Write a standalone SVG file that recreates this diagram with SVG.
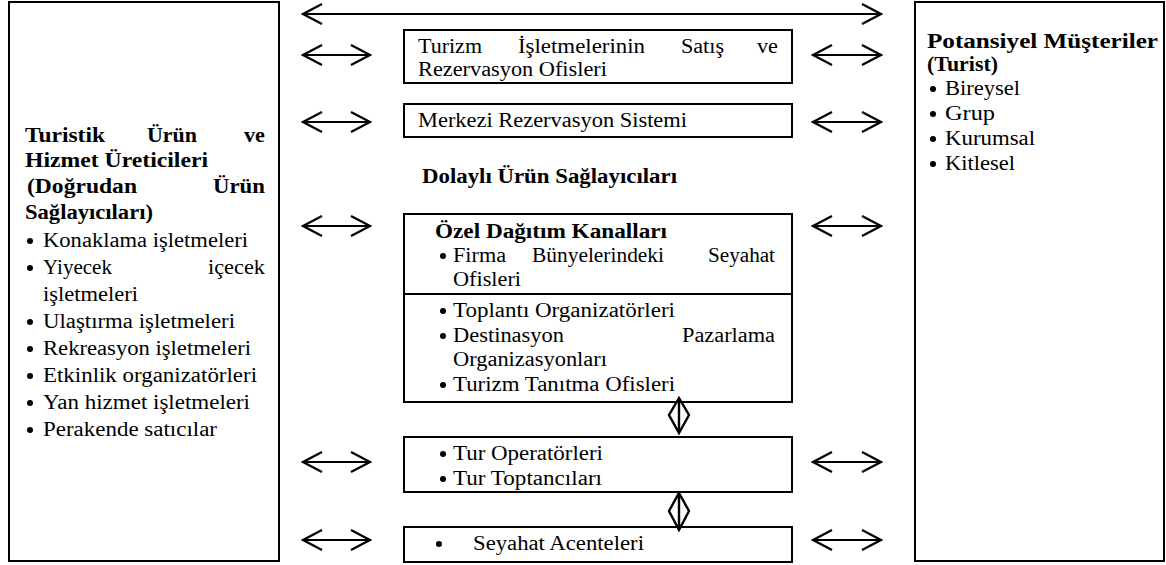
<svg xmlns="http://www.w3.org/2000/svg" width="1166" height="565" viewBox="0 0 1166 565">
<style>
  .box{fill:#fff;stroke:#000;stroke-width:2}
  text{font-family:"Liberation Serif","DejaVu Serif","Noto Serif",serif;font-size:20px;fill:#000}
  .b{font-weight:bold}
  .bul{fill:#000}
  .arr{fill:none;stroke:#000;stroke-width:2.2;marker-start:url(#chev);marker-end:url(#chev)}
  .dia{fill:none;stroke:#000;stroke-width:2.4;stroke-linejoin:miter}
</style>
<defs>
  <marker id="chev" viewBox="-22 -12 24 24" refX="0" refY="0" markerWidth="24" markerHeight="24" markerUnits="userSpaceOnUse" orient="auto-start-reverse">
    <path d="M-19,-10 L0,0 L-19,10" fill="none" stroke="#000" stroke-width="2.2"/>
  </marker>
</defs>

<g id="producers">
  <rect class="box" x="9" y="2" width="270" height="559"/>
  <text class="b" x="25" y="142" textLength="80" lengthAdjust="spacingAndGlyphs">Turistik</text>
  <text class="b" x="147" y="142" textLength="50" lengthAdjust="spacingAndGlyphs">Ürün</text>
  <text class="b" x="244" y="142" textLength="21" lengthAdjust="spacingAndGlyphs">ve</text>
  <text class="b" x="25" y="167" textLength="183" lengthAdjust="spacingAndGlyphs">Hizmet Üreticileri</text>
  <text class="b" x="27" y="193" textLength="110" lengthAdjust="spacingAndGlyphs">(Doğrudan</text>
  <text class="b" x="213" y="193" textLength="52" lengthAdjust="spacingAndGlyphs">Ürün</text>
  <text class="b" x="25" y="219" textLength="128" lengthAdjust="spacingAndGlyphs">Sağlayıcıları)</text>
  <circle class="bul" cx="30" cy="241" r="3"/>
  <text x="43" y="247" textLength="205" lengthAdjust="spacingAndGlyphs">Konaklama işletmeleri</text>
  <circle class="bul" cx="30" cy="268" r="3"/>
  <text x="43" y="274" textLength="69" lengthAdjust="spacingAndGlyphs">Yiyecek</text>
  <text x="208" y="274" textLength="57" lengthAdjust="spacingAndGlyphs">içecek</text>
  <text x="43" y="301" textLength="95" lengthAdjust="spacingAndGlyphs">işletmeleri</text>
  <circle class="bul" cx="30" cy="322" r="3"/>
  <text x="43" y="328" textLength="192" lengthAdjust="spacingAndGlyphs">Ulaştırma işletmeleri</text>
  <circle class="bul" cx="30" cy="349" r="3"/>
  <text x="43" y="355" textLength="208" lengthAdjust="spacingAndGlyphs">Rekreasyon işletmeleri</text>
  <circle class="bul" cx="30" cy="376" r="3"/>
  <text x="43" y="382" textLength="214" lengthAdjust="spacingAndGlyphs">Etkinlik organizatörleri</text>
  <circle class="bul" cx="30" cy="403" r="3"/>
  <text x="43" y="409" textLength="207" lengthAdjust="spacingAndGlyphs">Yan hizmet işletmeleri</text>
  <circle class="bul" cx="30" cy="430" r="3"/>
  <text x="43" y="436" textLength="174" lengthAdjust="spacingAndGlyphs">Perakende satıcılar</text>
</g>

<g id="sales-offices">
  <rect class="box" x="404" y="30" width="388" height="53"/>
  <text x="418" y="53" textLength="64" lengthAdjust="spacingAndGlyphs">Turizm</text>
  <text x="518" y="53" textLength="127" lengthAdjust="spacingAndGlyphs">İşletmelerinin</text>
  <text x="681" y="53" textLength="43" lengthAdjust="spacingAndGlyphs">Satış</text>
  <text x="757" y="53" textLength="21" lengthAdjust="spacingAndGlyphs">ve</text>
  <text x="418" y="76" textLength="189" lengthAdjust="spacingAndGlyphs">Rezervasyon Ofisleri</text>
</g>

<g id="crs">
  <rect class="box" x="404" y="104" width="388" height="33"/>
  <text x="418" y="127" textLength="269" lengthAdjust="spacingAndGlyphs">Merkezi Rezervasyon Sistemi</text>
</g>

<g id="indirect-label">
  <text class="b" x="422" y="183" textLength="255" lengthAdjust="spacingAndGlyphs">Dolaylı Ürün Sağlayıcıları</text>
</g>

<g id="special-channels">
  <rect class="box" x="404" y="214" width="388" height="188"/>
  <line x1="404" y1="294" x2="792" y2="294" stroke="#000" stroke-width="2"/>
  <text class="b" x="435" y="238" textLength="232" lengthAdjust="spacingAndGlyphs">Özel Dağıtım Kanalları</text>
  <circle class="bul" cx="443" cy="256" r="3"/>
  <text x="453" y="262" textLength="53" lengthAdjust="spacingAndGlyphs">Firma</text>
  <text x="532" y="262" textLength="132" lengthAdjust="spacingAndGlyphs">Bünyelerindeki</text>
  <text x="708" y="262" textLength="67" lengthAdjust="spacingAndGlyphs">Seyahat</text>
  <text x="453" y="286" textLength="68" lengthAdjust="spacingAndGlyphs">Ofisleri</text>
  <circle class="bul" cx="443" cy="311" r="3"/>
  <text x="453" y="317" textLength="222" lengthAdjust="spacingAndGlyphs">Toplantı Organizatörleri</text>
  <circle class="bul" cx="443" cy="336" r="3"/>
  <text x="453" y="342" textLength="111" lengthAdjust="spacingAndGlyphs">Destinasyon</text>
  <text x="682" y="342" textLength="93" lengthAdjust="spacingAndGlyphs">Pazarlama</text>
  <text x="453" y="366" textLength="154" lengthAdjust="spacingAndGlyphs">Organizasyonları</text>
  <circle class="bul" cx="443" cy="385" r="3"/>
  <text x="453" y="391" textLength="222" lengthAdjust="spacingAndGlyphs">Turizm Tanıtma Ofisleri</text>
</g>

<g id="tour-operators">
  <rect class="box" x="404" y="437" width="388" height="55"/>
  <circle class="bul" cx="443" cy="454" r="3"/>
  <text x="453" y="460" textLength="150" lengthAdjust="spacingAndGlyphs">Tur Operatörleri</text>
  <circle class="bul" cx="443" cy="479" r="3"/>
  <text x="453" y="485" textLength="149" lengthAdjust="spacingAndGlyphs">Tur Toptancıları</text>
</g>

<g id="travel-agencies">
  <rect class="box" x="404" y="527" width="388" height="35"/>
  <circle class="bul" cx="439" cy="544" r="3"/>
  <text x="473" y="550" textLength="171" lengthAdjust="spacingAndGlyphs">Seyahat Acenteleri</text>
</g>

<g id="customers">
  <rect class="box" x="915" y="2" width="249" height="559"/>
  <text class="b" x="927" y="48" textLength="231" lengthAdjust="spacingAndGlyphs">Potansiyel Müşteriler</text>
  <text class="b" x="927" y="71" textLength="71" lengthAdjust="spacingAndGlyphs">(Turist)</text>
  <circle class="bul" cx="933" cy="89" r="3"/>
  <text x="945" y="95" textLength="75" lengthAdjust="spacingAndGlyphs">Bireysel</text>
  <circle class="bul" cx="933" cy="114" r="3"/>
  <text x="945" y="120" textLength="50" lengthAdjust="spacingAndGlyphs">Grup</text>
  <circle class="bul" cx="933" cy="139" r="3"/>
  <text x="945" y="145" textLength="90" lengthAdjust="spacingAndGlyphs">Kurumsal</text>
  <circle class="bul" cx="933" cy="164" r="3"/>
  <text x="945" y="170" textLength="70" lengthAdjust="spacingAndGlyphs">Kitlesel</text>
</g>

<g id="connectors">
  <path class="arr" d="M303,14 H881" stroke-width="2.6"/>
  <path class="arr" d="M303,55 H370"/>
  <path class="arr" d="M303,122 H370"/>
  <path class="arr" d="M303,226 H370"/>
  <path class="arr" d="M303,462 H370"/>
  <path class="arr" d="M303,540 H370"/>
  <path class="arr" d="M813,55 H881"/>
  <path class="arr" d="M813,122 H881"/>
  <path class="arr" d="M813,226 H881"/>
  <path class="arr" d="M813,462 H881"/>
  <path class="arr" d="M813,540 H881"/>
  <path class="dia" d="M679,398 L689,415 L679,433 L669,415 Z M679,398 V433"/>
  <path class="dia" d="M679,493 L689,511 L679,530 L669,511 Z M679,493 V530"/>
</g>
</svg>
